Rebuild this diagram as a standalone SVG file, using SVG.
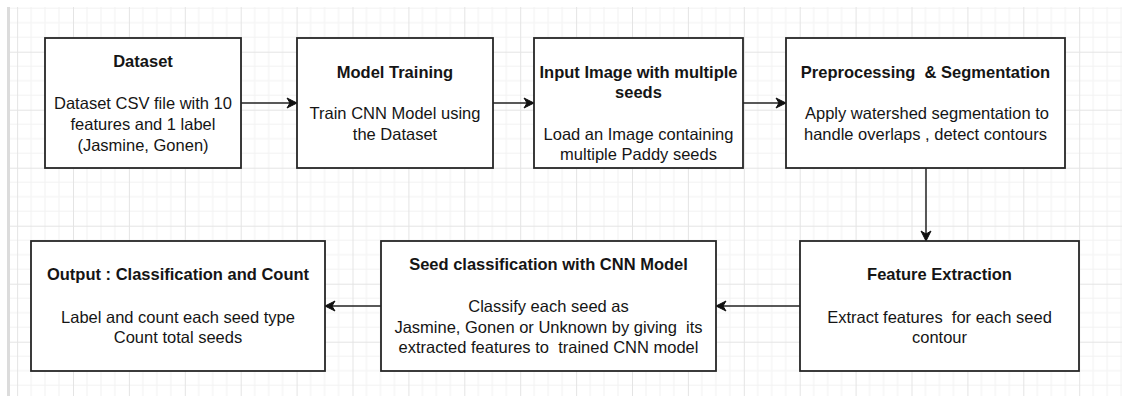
<svg xmlns="http://www.w3.org/2000/svg" width="1122" height="396" viewBox="0 0 1122 396">
  <defs>
    <!-- drawing-canvas grid: major cells with 4 minor subdivisions -->
    <pattern id="grid" patternUnits="userSpaceOnUse" x="17.1" y="-6.3" width="55.9" height="58">
      <g stroke="#f2f2f2" stroke-width="1">
        <line x1="13.975" y1="0" x2="13.975" y2="58"/>
        <line x1="27.95" y1="0" x2="27.95" y2="58"/>
        <line x1="41.925" y1="0" x2="41.925" y2="58"/>
        <line x1="0" y1="14.5" x2="55.9" y2="14.5"/>
        <line x1="0" y1="29" x2="55.9" y2="29"/>
        <line x1="0" y1="43.5" x2="55.9" y2="43.5"/>
      </g>
      <g stroke="#e4e4e4" stroke-width="1">
        <line x1="0.5" y1="0" x2="0.5" y2="58"/>
        <line x1="0" y1="0.5" x2="55.9" y2="0.5"/>
      </g>
    </pattern>
    <marker id="arrow" markerUnits="userSpaceOnUse" markerWidth="12" markerHeight="12" viewBox="0 0 12 12" refX="11" refY="6" orient="auto">
      <path d="M1,1 L11,6 L1,11 L4,6 Z" fill="#111" stroke="#111" stroke-width="1" stroke-linejoin="miter"/>
    </marker>
  </defs>
  <style>
    .box { fill: #ffffff; stroke: #262626; stroke-width: 1.8; }
    .edge { fill: none; stroke: #222; stroke-width: 1.5; marker-end: url(#arrow); }
    text { font-family: "Liberation Sans", Arial, sans-serif; font-size: 16.5px; fill: #151515; text-anchor: middle; }
    .title { font-weight: bold; }
  </style>

  <!-- canvas -->
  <rect x="0" y="0" width="1122" height="396" fill="#ffffff"/>
  <rect x="10" y="7" width="1112" height="389" fill="url(#grid)"/>
  <rect x="7" y="7" width="3" height="389" fill="#dcdcdc"/>

  <!-- connectors -->
  <g id="connectors">
    <line class="edge" x1="241" y1="103" x2="297" y2="103"/>
    <line class="edge" x1="493" y1="103" x2="534" y2="103"/>
    <line class="edge" x1="743" y1="103" x2="786" y2="103"/>
    <line class="edge" x1="926" y1="168" x2="926" y2="241"/>
    <line class="edge" x1="800" y1="306" x2="716" y2="306"/>
    <line class="edge" x1="381" y1="306" x2="325" y2="306"/>
  </g>

  <g id="dataset">
    <rect class="box" x="45" y="38" width="196" height="130"/>
    <text class="title" x="143" y="67">Dataset</text>
    <text x="143" y="109">Dataset CSV file with 10</text>
    <text x="143" y="130">features and 1 label</text>
    <text x="143" y="151">(Jasmine, Gonen)</text>
  </g>

  <g id="model-training">
    <rect class="box" x="297" y="38" width="196" height="130"/>
    <text class="title" x="395" y="78">Model Training</text>
    <text x="395" y="119">Train CNN Model using</text>
    <text x="395" y="140">the Dataset</text>
  </g>

  <g id="input-image">
    <rect class="box" x="534" y="38" width="209" height="130"/>
    <text class="title" x="638.5" y="78">Input Image with multiple</text>
    <text class="title" x="638.5" y="98">seeds</text>
    <text x="638.5" y="140">Load an Image containing</text>
    <text x="638.5" y="160">multiple Paddy seeds</text>
  </g>

  <g id="preprocessing">
    <rect class="box" x="786" y="38" width="279" height="130"/>
    <text class="title" x="925.5" y="78" xml:space="preserve">Preprocessing  &amp; Segmentation</text>
    <text x="927" y="119">Apply watershed segmentation to</text>
    <text x="925.5" y="140">handle overlaps , detect contours</text>
  </g>

  <g id="feature-extraction">
    <rect class="box" x="800" y="241" width="279" height="130"/>
    <text class="title" x="939.5" y="280">Feature Extraction</text>
    <text x="939.5" y="323" xml:space="preserve">Extract features  for each seed</text>
    <text x="939.5" y="343">contour</text>
  </g>

  <g id="seed-classification">
    <rect class="box" x="381" y="241" width="335" height="130"/>
    <text class="title" x="548.5" y="270">Seed classification with CNN Model</text>
    <text x="548.5" y="312">Classify each seed as</text>
    <text x="548.5" y="333" xml:space="preserve">Jasmine, Gonen or Unknown by giving  its</text>
    <text x="548.5" y="353" xml:space="preserve">extracted features to  trained CNN model</text>
  </g>

  <g id="output">
    <rect class="box" x="31" y="241" width="294" height="130"/>
    <text class="title" x="178" y="280">Output : Classification and Count</text>
    <text x="178" y="323">Label and count each seed type</text>
    <text x="178" y="343">Count total seeds</text>
  </g>
</svg>
